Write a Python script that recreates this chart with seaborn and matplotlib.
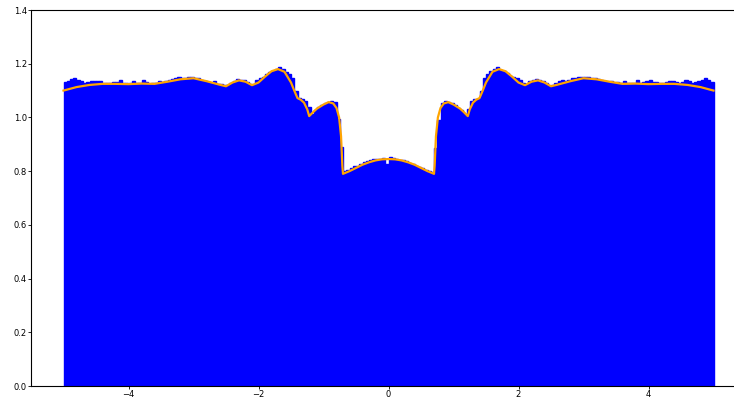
import seaborn as sns
import numpy as np
import matplotlib.pyplot as plt

# histogram bin heights (200 bins of width 0.05 between -5 and 5)
n_bins = 200
bin_width = 0.05
bin_edges = np.linspace(-5, 5, n_bins + 1)
bin_heights = [
    1.132, 1.136, 1.142, 1.146, 1.138, 1.134, 1.130, 1.133, 1.136, 1.136,
    1.137, 1.136, 1.130, 1.128, 1.127, 1.131, 1.133, 1.138, 1.130, 1.128,
    1.130, 1.134, 1.128, 1.127, 1.139, 1.131, 1.126, 1.127, 1.130, 1.136,
    1.132, 1.135, 1.140, 1.142, 1.146, 1.150, 1.148, 1.146, 1.150, 1.152,
    1.148, 1.146, 1.140, 1.136, 1.133, 1.130, 1.135, 1.126, 1.124, 1.119,
    1.120, 1.130, 1.137, 1.142, 1.141, 1.138, 1.132, 1.124, 1.121, 1.140,
    1.145, 1.150, 1.160, 1.168, 1.174, 1.182, 1.186, 1.180, 1.170, 1.160,
    1.145, 1.100, 1.072, 1.068, 1.062, 1.040, 1.012, 1.028, 1.038, 1.048,
    1.052, 1.058, 1.061, 1.056, 0.995, 0.890, 0.800, 0.806, 0.812, 0.818,
    0.820, 0.826, 0.833, 0.838, 0.842, 0.846, 0.847, 0.845, 0.850, 0.826,
    0.851, 0.848, 0.845, 0.843, 0.840, 0.836, 0.832, 0.826, 0.820, 0.814,
    0.812, 0.806, 0.800, 0.795, 0.885, 0.990, 1.052, 1.060, 1.058, 1.052,
    1.045, 1.036, 1.026, 1.012, 1.032, 1.060, 1.068, 1.070, 1.098, 1.148,
    1.162, 1.172, 1.182, 1.186, 1.178, 1.172, 1.166, 1.155, 1.150, 1.146,
    1.140, 1.128, 1.126, 1.134, 1.140, 1.142, 1.138, 1.136, 1.130, 1.118,
    1.122, 1.128, 1.134, 1.138, 1.136, 1.140, 1.145, 1.148, 1.150, 1.151,
    1.152, 1.150, 1.146, 1.145, 1.142, 1.138, 1.136, 1.133, 1.134, 1.130,
    1.131, 1.128, 1.135, 1.127, 1.130, 1.129, 1.140, 1.129, 1.131, 1.136,
    1.140, 1.132, 1.133, 1.129, 1.130, 1.131, 1.137, 1.134, 1.133, 1.130,
    1.133, 1.138, 1.136, 1.128, 1.133, 1.137, 1.140, 1.145, 1.140, 1.133,
]
bin_centers = (bin_edges[:-1] + bin_edges[1:]) / 2

# theoretical density (orange line)
curve_x = [-5.0, -4.8, -4.6, -4.4, -4.2, -4.0, -3.8, -3.6, -3.4, -3.2,
           -3.0, -2.8, -2.6, -2.5, -2.4, -2.3, -2.2, -2.1, -2.0, -1.9,
           -1.8, -1.7, -1.6, -1.5, -1.45, -1.4, -1.35, -1.3, -1.25, -1.22,
           -1.15, -1.1, -1.0, -0.92, -0.85, -0.8, -0.76, -0.73, -0.71, -0.70,
           -0.6, -0.5, -0.4, -0.3, -0.2, -0.1, 0.0,
           0.1, 0.2, 0.3, 0.4, 0.5, 0.6, 0.70, 0.71, 0.73, 0.76,
           0.8, 0.85, 0.92, 1.0, 1.1, 1.15, 1.22, 1.25, 1.3, 1.35,
           1.4, 1.45, 1.5, 1.6, 1.7, 1.8, 1.9, 2.0, 2.1, 2.2,
           2.3, 2.4, 2.5, 2.6, 2.8, 3.0, 3.2, 3.4, 3.6, 3.8,
           4.0, 4.2, 4.4, 4.6, 4.8, 5.0]
curve_y = [1.100, 1.113, 1.121, 1.125, 1.125, 1.124, 1.126, 1.125, 1.133, 1.142,
           1.146, 1.135, 1.122, 1.116, 1.130, 1.138, 1.133, 1.120, 1.130, 1.152,
           1.172, 1.180, 1.170, 1.130, 1.100, 1.072, 1.066, 1.055, 1.030, 1.005,
           1.022, 1.033, 1.048, 1.057, 1.052, 1.035, 1.000, 0.930, 0.820, 0.790,
           0.800, 0.812, 0.824, 0.833, 0.840, 0.844, 0.845,
           0.844, 0.840, 0.833, 0.824, 0.812, 0.800, 0.790, 0.820, 0.930, 1.000,
           1.035, 1.052, 1.057, 1.048, 1.033, 1.022, 1.005, 1.030, 1.055, 1.066,
           1.072, 1.100, 1.130, 1.170, 1.180, 1.172, 1.152, 1.130, 1.120, 1.133,
           1.138, 1.130, 1.116, 1.122, 1.135, 1.146, 1.142, 1.133, 1.125, 1.126,
           1.124, 1.125, 1.125, 1.121, 1.113, 1.100]

fig = plt.figure(figsize=(7.34, 3.99), dpi=100)
ax = fig.add_axes([31 / 734, 13 / 399, 715 / 734, 376 / 399])

# pre-binned histogram drawn as bars
ax.bar(bin_centers, bin_heights, width=bin_width, color="blue",
       edgecolor="blue", linewidth=1.0)
sns.lineplot(x=curve_x, y=curve_y, color="orange", linewidth=1.6, ax=ax)

ax.set_xlim(-5.5, 5.5)
ax.set_ylim(0, 1.4)
ax.set_xlabel("")
ax.set_ylabel("")
ax.tick_params(labelsize=6, length=2, pad=0.8, width=0.6)
for s in ax.spines.values():
    s.set_linewidth(0.8)

fig.savefig("out.png", dpi=100)
